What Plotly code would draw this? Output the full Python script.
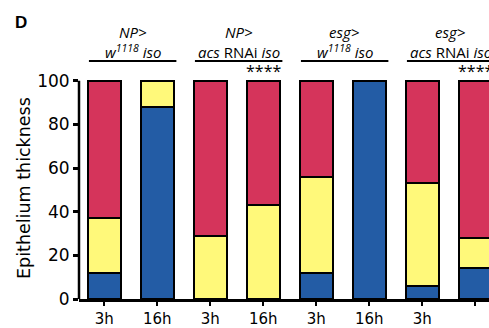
import plotly.graph_objects as go

tick_labels = ["3h", "16h", "3h", "16h", "3h", "16h", "3h", "16h"]
blue_vals = [12, 88, 0, 0, 12, 100, 6, 14]
yellow_vals = [25, 12, 29, 43, 44, 0, 47, 14]
red_vals = [63, 0, 71, 57, 44, 0, 47, 72]
group_top = ["NP>", "NP>", "esg>", "esg>"]
group_bottom = ["w<sup>1118</sup> iso", "acs <span style='font-style:normal'>RNAi</span> iso",
                "w<sup>1118</sup> iso", "acs <span style='font-style:normal'>RNAi</span> iso"]
significance = ["", "****", "", "****"]

colors = {"blue": "#235CA5", "yellow": "#FFF97A", "red": "#D5345B"}
xpos = list(range(len(tick_labels)))

fig = go.Figure()
for vals, col in [(blue_vals, colors["blue"]), (yellow_vals, colors["yellow"]), (red_vals, colors["red"])]:
    fig.add_trace(go.Bar(x=xpos, y=vals, width=0.625, marker=dict(color=col, line=dict(color="black", width=2)),
                         showlegend=False))

W, H = 489, 328
ml, mr, mt, mb = 79, 0, 79, 29
pw = W - ml - mr
ph = H - mt - mb

def py(pix):
    return (H - mb - pix) / ph

def px(pix):
    return (pix - ml) / pw

LBL_FONT = "Open Sans, Liberation Sans, sans-serif"
ann = []
shapes = []
for g in range(4):
    c = 2 * g + 0.5
    ann.append(dict(x=c + 0.04, y=py(32), xref="x", yref="paper", text=f"<i>{group_top[g]}</i>", showarrow=False,
                    font=dict(family=LBL_FONT, size=15, color="black"), yanchor="middle"))
    ann.append(dict(x=c + 0.04, y=py(51.5), xref="x", yref="paper", text=f"<i>{group_bottom[g]}</i>", showarrow=False,
                    font=dict(family=LBL_FONT, size=15, color="black"), yanchor="middle"))
    shapes.append(dict(type="line", xref="x", yref="paper", x0=2 * g - 0.29, x1=2 * g + 1.36, y0=py(61), y1=py(61),
                       line=dict(color="black", width=2)))
    if significance[g]:
        ann.append(dict(x=2 * g + 1, y=py(71), xref="x", yref="paper", text=significance[g], showarrow=False,
                        font=dict(family=LBL_FONT, size=16, color="black"), yanchor="middle"))

ann.append(dict(x=px(13), y=py(22), xref="paper", yref="paper", text="<b>D</b>", showarrow=False,
                font=dict(family="Liberation Sans, Arial", size=17, color="black"), xanchor="left", yanchor="middle"))
ann.append(dict(x=px(24), y=py(188), xref="paper", yref="paper", text="Epithelium thickness", textangle=-90,
                showarrow=False, font=dict(family="DejaVu Sans", size=17.5, color="black"),
                xanchor="center", yanchor="middle"))
shapes.append(dict(type="line", xref="paper", yref="y", x0=0, x1=0, y0=0, y1=100,
                   line=dict(color="black", width=2.5)))

fig.update_layout(
    barmode="stack", width=W, height=H,
    margin=dict(l=ml, r=mr, t=mt, b=mb),
    plot_bgcolor="white", paper_bgcolor="white",
    annotations=ann, shapes=shapes, bargap=0,
)
fig.update_xaxes(range=[(ml - 104.3) / 53, (W - 104.3) / 53], tickvals=xpos, ticktext=tick_labels, showline=True,
                 linecolor="black", linewidth=2.5, ticks="outside", ticklen=4, tickwidth=2, tickcolor="black",
                 tickfont=dict(family="DejaVu Sans", size=15, color="black"), showgrid=False, zeroline=False)
fig.update_yaxes(range=[0, 100.8], tickvals=[0, 20, 40, 60, 80, 100], showline=False,
                 ticks="outside", ticklen=5, tickwidth=2.5, tickcolor="black",
                 tickfont=dict(family="DejaVu Sans", size=17, color="black"), showgrid=False, zeroline=False)

fig.write_html("out.html", config={"displayModeBar": False},
               post_script="document.body.style.margin='0';")
